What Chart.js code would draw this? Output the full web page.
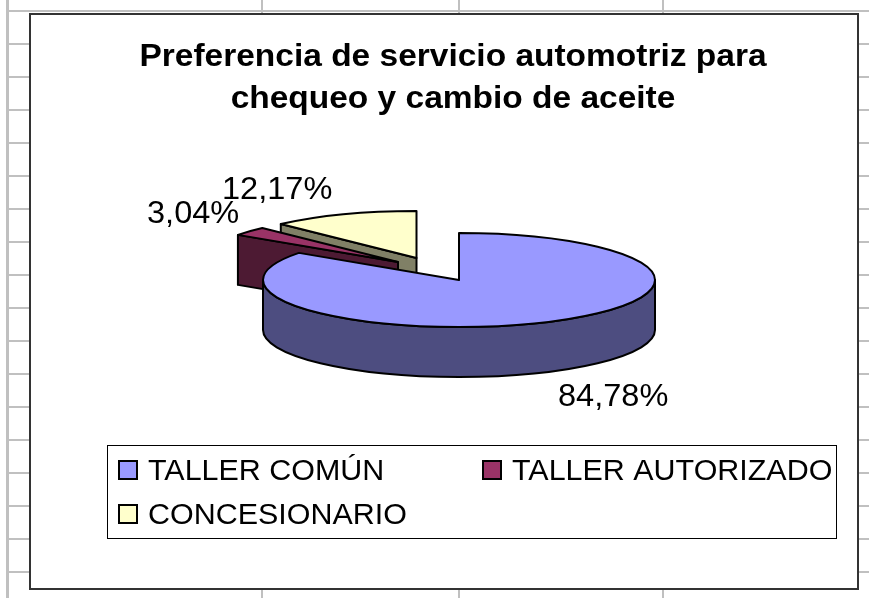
<!DOCTYPE html>
<html>
<head>
<meta charset="utf-8">
<style>html,body{margin:0;padding:0;background:#fff}canvas{display:block}</style>
<script src="https://cdn.jsdelivr.net/npm/chart.js@4"></script>
</head>
<body>
<div style="width:869px;height:598px;position:relative"><canvas id="c" width="869" height="598"></canvas></div>
<script>
const titleLines = ['Preferencia de servicio automotriz para', 'chequeo y cambio de aceite'];
const categories = ['TALLER COMÚN', 'TALLER AUTORIZADO', 'CONCESIONARIO'];
const shares = [84.78, 3.04, 12.17];

const topColors = ['#9999FF', '#993366', '#FFFFCC'];
const wallColors = ['#4D4D80', '#4D1A33', '#808066'];
const sliceShift = [[0, 0], [-61, -18], [-42.5, -22]];
const labelAnchors = [[558, 397], [147, 214], [222, 190]];
const legendSlots = [[118, 148, 470], [482, 512, 470], [118, 148, 514]];
const FONT = '"Liberation Sans", Arial, sans-serif';
const TILT = 47 / 196, DEPTH = 50;
const TITLE_CENTER = 453, TITLE_STRETCH = 1.08, TEXT_STRETCH = 1.05;

function stretchedText(ctx, text, x, y, k) {
  ctx.save();
  ctx.translate(x, y);
  ctx.scale(k, 1);
  ctx.fillText(text, 0, 0);
  ctx.restore();
}

const scene = {
  id: 'scene',
  afterLayout(chart) {
    const t = chart.titleBlock;
    t.left = TITLE_CENTER - 400;
    t.right = TITLE_CENTER + 400;
    const drawTitle = t.draw;
    t.draw = function () {
      const ctx = this.ctx;
      ctx.save();
      ctx.translate(TITLE_CENTER, 0);
      ctx.scale(TITLE_STRETCH, 1);
      ctx.translate(-TITLE_CENTER, 0);
      drawTitle.call(this);
      ctx.restore();
    };
  },
  beforeDraw(chart) {
    const { ctx, width, height } = chart;
    ctx.save();
    ctx.fillStyle = '#fff';
    ctx.fillRect(0, 0, width, height);
    ctx.strokeStyle = '#C0C0C0';
    ctx.lineWidth = 2;
    ctx.beginPath();
    for (let y = 11, i = 0; i < 18; i++, y += 33) { ctx.moveTo(7, y); ctx.lineTo(width, y); }
    [262, 459, 663].forEach(x => { ctx.moveTo(x, 0); ctx.lineTo(x, height); });
    ctx.stroke();
    ctx.lineWidth = 3;
    ctx.beginPath(); ctx.moveTo(7.5, 0); ctx.lineTo(7.5, height); ctx.stroke();
    ctx.fillStyle = '#fff';
    ctx.fillRect(30, 14, 828, 575);
    ctx.strokeStyle = '#333';
    ctx.lineWidth = 2;
    ctx.strokeRect(30, 14, 828, 575);
    ctx.restore();
  },
  beforeDatasetsDraw(chart) {
    const { ctx } = chart;
    const arcs = chart.getDatasetMeta(0).data;
    ctx.save();
    ctx.lineWidth = 2;
    ctx.lineJoin = 'round';
    ctx.strokeStyle = '#000';
    for (let i = arcs.length - 1; i >= 0; i--) {
      const arc = arcs[i];
      const { x, y, startAngle: s, endAngle: e, outerRadius: r } = arc.getProps(['x', 'y', 'startAngle', 'endAngle', 'outerRadius']);
      const cx = x + sliceShift[i][0], cy = y + sliceShift[i][1];
      const ry = r * TILT;
      const edge = a => [cx + r * Math.cos(a), cy + ry * Math.sin(a)];
      ctx.fillStyle = wallColors[i];
      const radial = a => {
        const p = edge(a);
        ctx.beginPath();
        ctx.moveTo(cx, cy); ctx.lineTo(p[0], p[1]);
        ctx.lineTo(p[0], p[1] + DEPTH); ctx.lineTo(cx, cy + DEPTH);
        ctx.closePath(); ctx.fill(); ctx.stroke();
      };
      if (Math.cos(s) < -1e-6) radial(s);
      if (Math.cos(e) > 1e-6) radial(e);
      const lo = Math.max(s, 0), hi = Math.min(e, Math.PI);
      if (hi > lo) {
        ctx.beginPath();
        ctx.ellipse(cx, cy, r, ry, 0, lo, hi);
        ctx.ellipse(cx, cy + DEPTH, r, ry, 0, hi, lo, true);
        ctx.closePath(); ctx.fill(); ctx.stroke();
      }
      // top face: the library's own arc, squashed and shifted
      ctx.save();
      ctx.translate(cx, cy);
      ctx.scale(1, TILT);
      ctx.translate(-x, -y);
      arc.draw(ctx);
      ctx.restore();
      ctx.beginPath();
      ctx.moveTo(cx, cy);
      ctx.ellipse(cx, cy, r, ry, 0, s, e);
      ctx.closePath();
      ctx.stroke();
    }
    ctx.restore();
    return false;
  },
  afterDraw(chart) {
    const { ctx } = chart;
    ctx.save();
    ctx.fillStyle = '#000';
    ctx.textBaseline = 'middle';
    ctx.textAlign = 'left';
    ctx.font = '31px ' + FONT;
    shares.forEach((v, i) => {
      stretchedText(ctx, v.toFixed(2).replace('.', ',') + '%', labelAnchors[i][0], labelAnchors[i][1], TEXT_STRETCH);
    });
    ctx.strokeStyle = '#000';
    ctx.lineWidth = 1;
    ctx.fillStyle = '#fff';
    ctx.fillRect(107.5, 445.5, 729, 93);
    ctx.strokeRect(107.5, 445.5, 729, 93);
    ctx.font = '29px ' + FONT;
    categories.forEach((name, i) => {
      const [bx, tx, cy] = legendSlots[i];
      ctx.fillStyle = topColors[i];
      ctx.lineWidth = 2;
      ctx.fillRect(bx + 1, cy - 9, 18, 18);
      ctx.strokeRect(bx + 1, cy - 9, 18, 18);
      ctx.fillStyle = '#000';
      stretchedText(ctx, name, tx, cy + 2, TEXT_STRETCH);
    });
    ctx.restore();
  }
};

new Chart(document.getElementById('c'), {
  type: 'pie',
  data: {
    labels: categories,
    datasets: [{ data: shares, backgroundColor: topColors, borderWidth: 0, radius: 196 }]
  },
  options: {
    responsive: false,
    animation: false,
    layout: { padding: { left: 263, right: 214, top: 0, bottom: 158 } },
    plugins: {
      legend: { display: false },
      tooltip: { enabled: false },
      title: {
        display: true,
        text: titleLines,
        color: '#000',
        font: { family: FONT, size: 31, weight: 'bold', lineHeight: 1.355 },
        padding: { top: 36, bottom: 0 }
      }
    }
  },
  plugins: [scene]
});
</script>
</body>
</html>
